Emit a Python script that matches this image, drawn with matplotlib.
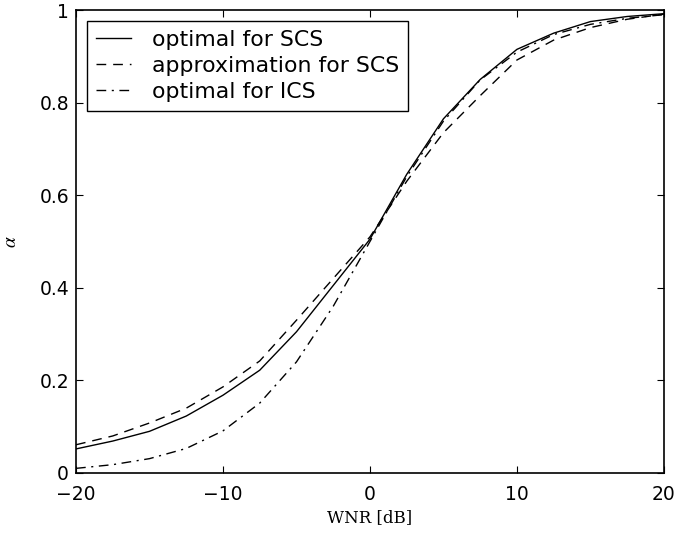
import matplotlib
matplotlib.use("Agg")
import matplotlib.pyplot as plt
import numpy as np

# values, every 2.5 dB
wnr = [-20, -17.5, -15, -12.5, -10, -7.5, -5, -2.5, 0,
       2.5, 5, 7.5, 10, 12.5, 15, 17.5, 20]
alpha_scs = [0.052, 0.069, 0.090, 0.123, 0.168, 0.222, 0.305, 0.405, 0.505,
             0.645, 0.765, 0.850, 0.915, 0.950, 0.975, 0.986, 0.992]
alpha_approx = [0.061, 0.080, 0.108, 0.140, 0.186, 0.242, 0.330, 0.420, 0.510,
                0.630, 0.735, 0.815, 0.892, 0.935, 0.962, 0.980, 0.991]
alpha_ics = [0.010, 0.018, 0.031, 0.053, 0.091, 0.151, 0.240, 0.360, 0.500,
             0.640, 0.760, 0.849, 0.909, 0.947, 0.969, 0.982, 0.990]

labels = ['optimal for SCS', 'approximation for SCS', 'optimal for ICS']
xticks = [-20, -10, 0, 10, 20]
yticks = [0, 0.2, 0.4, 0.6, 0.8, 1]

plt.rcParams['font.family'] = ['DejaVu Sans']
plt.rcParams['mathtext.fontset'] = 'stix'

fig = plt.figure(figsize=(6.93, 5.35), dpi=100)
ax = fig.add_axes([0.1097, 0.1159, 0.8483, 0.8654])

ax.plot(wnr, alpha_scs, color='black', lw=1.0, ls='-', label=labels[0])
ax.plot(wnr, alpha_approx, color='black', lw=1.0, ls=(0, (7, 5)), label=labels[1])
ax.plot(wnr, alpha_ics, color='black', lw=1.0, ls=(0, (7, 4, 1.5, 4)), label=labels[2])

ax.set_xlim(-20, 20)
ax.set_ylim(0, 1)
ax.set_xticks(xticks)
ax.set_yticks(yticks)
ax.set_xticklabels(['\u221220', '\u221210', '0', '10', '20'])
ax.set_yticklabels(['0', '0.2', '0.4', '0.6', '0.8', '1'])
ax.tick_params(direction='in', top=True, right=True, labelsize=13.5, length=5)
ax.tick_params(axis='x', pad=9)
ax.tick_params(axis='y', pad=5)
for s in ax.spines.values():
    s.set_linewidth(1.2)

ax.set_xlabel('WNR [dB]', family='DejaVu Serif', fontsize=12, labelpad=3)
ax.set_ylabel(r'$\alpha$', fontsize=14, labelpad=14)

leg = ax.legend(loc='upper left', fontsize=15.8, handlelength=1.6, labelspacing=0.28,
                borderaxespad=0.5, fancybox=False, framealpha=1, edgecolor='black',
                borderpad=0.4, handletextpad=0.95)
leg.get_frame().set_linewidth(1.0)

fig.savefig('out.png', dpi=100)
